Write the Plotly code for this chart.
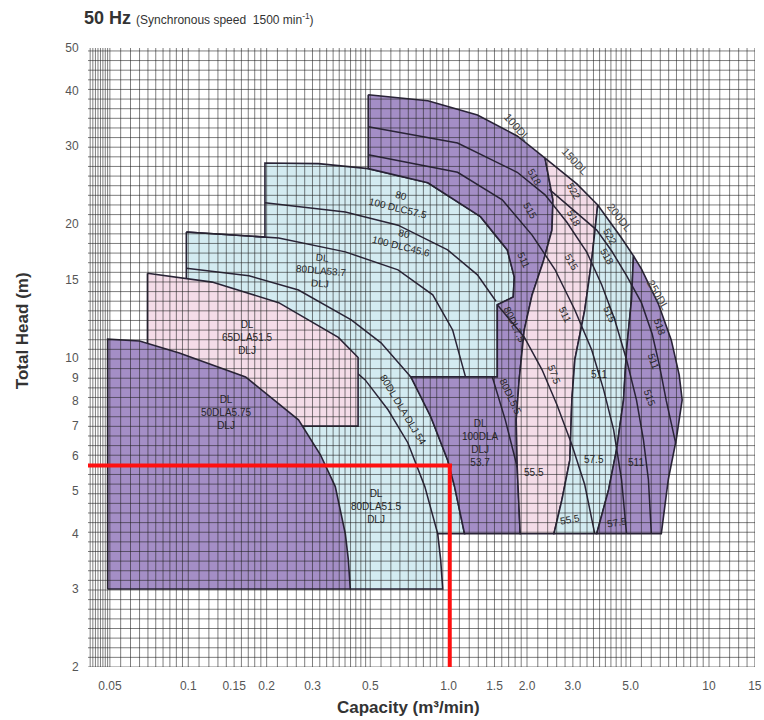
import numpy as np
import plotly.graph_objects as go

# ---------------- axis ticks ----------------
x_tick_vals = [0.05, 0.1, 0.15, 0.2, 0.3, 0.5, 1.0, 1.5, 2.0, 3.0, 5.0, 10, 15]
x_tick_text = ["0.05", "0.1", "0.15", "0.2", "0.3", "0.5", "1.0", "1.5", "2.0", "3.0", "5.0", "10", "15"]
y_tick_vals = [2, 3, 4, 5, 6, 7, 8, 9, 10, 15, 20, 30, 40, 50]
y_tick_text = [str(v) for v in y_tick_vals]
x_range = (0.0412, 15.02)
y_range = (2, 50)

# ---------------- boundary curves (Q m3/min, H m) ----------------
env_q = [0.491, 0.832, 1.29, 1.834, 2.346, 3.107, 3.738, 4.614, 5.128, 5.501, 6.388, 7.161, 7.683, 7.888]
env_h = [39.2, 38.0, 35.3, 31.65, 28.2, 24.66, 22.1, 18.62, 16.96, 15.85, 13.22, 10.96, 9.14, 8.02]
right_q = [7.482, 6.976, 6.559]
right_h = [6.52, 5.3, 4.0]
b1_q = [2.346, 2.516, 2.494, 2.305, 2.092, 1.95, 1.866, 1.818, 1.834, 1.883]
b1_h = [28.2, 22.7, 19.4, 16.4, 13.85, 11.5, 8.9, 7.23, 5.66, 4.0]
b2_q = [3.738, 3.545, 3.333, 3.053, 2.974, 2.922, 2.723, 2.538]
b2_h = [22.1, 16.6, 12.8, 9.88, 8.02, 5.87, 4.77, 4.0]
b3_q = [5.128, 5.038, 4.823, 4.696, 4.416, 4.117, 3.705]
b3_h = [16.96, 13.5, 10.4, 8.02, 6.19, 5.03, 4.0]
dlc_top_q = [0.197, 0.316, 0.491, 0.832, 1.325, 1.68, 1.787, 1.771, 1.538]
dlc_top_h = [27.5, 27.4, 26.7, 24.8, 20.8, 17.5, 15.2, 13.7, 13.15]
dla100_left_q = [0.716, 0.854, 0.991, 1.054, 1.151]
dla100_left_h = [9.04, 7.35, 5.87, 5.11, 4.0]

# small-pump regions
dla50_q = [0.049, 0.049, 0.065, 0.0924, 0.166, 0.265, 0.3218, 0.367, 0.401, 0.412, 0.419]
dla50_h = [3.0, 11.0, 10.9, 10.24, 9.04, 7.23, 6.03, 5.11, 4.0, 3.49, 3.0]
dla65_q = [0.0697, 0.1235, 0.2225, 0.377, 0.449, 0.449, 0.0697]
dla65_h = [15.5, 14.8, 13.3, 11.1, 10.0, 7.0, 7.0]
lb_head_q = [0.0983, 0.197]
lb_head_h = [19.2, 18.7]
lb_tail_q = [0.908, 0.932, 0.949, 0.419, 0.265, 0.171, 0.0983]
lb_tail_h = [4.0, 3.49, 3.0, 3.0, 6.98, 8.02, 13.5]

# interior curves
line2_q = [0.197, 0.401, 0.639, 0.991, 1.29, 1.52]
line2_h = [22.35, 21.3, 19.9, 17.5, 15.37, 13.4]
line3_q = [0.0983, 0.2225, 0.401, 0.639, 0.869, 1.036, 1.161]
line3_h = [19.2, 18.62, 17.32, 15.77, 13.85, 11.54, 9.04]
line4_q = [0.0983, 0.171, 0.265, 0.4226, 0.55, 0.716]
line4_h = [15.9, 15.3, 14.2, 12.16, 10.79, 9.04]
inner_q = [0.265, 0.377, 0.478, 0.585, 0.697, 0.81, 0.908]
inner_h = [11.73, 10.03, 8.9, 7.62, 6.42, 5.11, 4.0]
h1_q = [2.43, 2.922, 3.705, 4.23, 4.823, 5.501, 6.05, 6.45, 6.85, 7.45]
h1_h = [24.0, 21.9, 19.4, 17.4, 15.3, 13.3, 11.3, 9.6, 8.0, 6.4]
h2_q = [0.491, 1.082, 1.834, 2.346, 2.846, 3.392, 3.871, 4.339, 4.823, 5.265, 5.6, 5.851, 6.006]
h2_h = [33.2, 30.5, 26.2, 23.3, 20.2, 17.3, 14.6, 12.2, 9.88, 8.02, 6.52, 5.3, 4.0]
h3_q = [0.491, 1.082, 1.607, 2.092, 2.561, 3.053, 3.545, 3.94, 4.301, 4.614, 4.823]
h3_h = [28.7, 26.2, 22.7, 18.9, 15.8, 12.8, 10.4, 8.45, 6.87, 5.3, 4.0]
ha_q = [1.538, 1.95, 2.285, 2.606, 2.974, 3.333, 3.64]
ha_h = [13.15, 11.13, 9.38, 7.82, 6.35, 5.16, 4.0]
vline_q = [1.472, 1.65, 1.834]
vline_h = [9.04, 7.23, 5.66]

# operating point (red lines)
op_q = 1.01
op_h = 5.7

# labels: text, Q, H, angle
labels = [
    ("DL<br>50DLA5.75<br>DLJ", 0.14, 7.5, 0),
    ("DL<br>65DLA51.5<br>DLJ", 0.168, 11.1, 0),
    ("DL<br>80DLA53.7<br>DLJ", 0.322, 15.7, 5),
    ("80<br>100 DLC57.5", 0.65, 22.5, 14),
    ("80<br>100 DLC45.6", 0.667, 18.4, 14),
    ("80DL DLA DLJ 54", 0.667, 7.62, 59),
    ("DL<br>80DLA51.5<br>DLJ", 0.527, 4.6, 0),
    ("DL<br>100DLA<br>DLJ<br>53.7", 1.325, 6.42, 0),
    ("80DL7.5", 1.787, 11.85, 65),
    ("80DL5.5", 1.725, 8.15, 65),
    ("518", 2.13, 25.6, 60), ("515", 2.056, 21.5, 60), ("511", 1.95, 16.6, 65),
    ("522", 3.027, 23.7, 60), ("518", 3.027, 20.6, 60), ("515", 2.974, 16.4, 60), ("511", 2.797, 12.5, 65),
    ("57.5", 2.538, 9.14, 70), ("55.5", 2.13, 5.49, 0),
    ("522", 4.153, 18.72, 60), ("518", 4.045, 16.87, 60), ("515", 4.153, 12.5, 65),
    ("511", 3.77, 9.14, 0), ("57.5", 3.608, 5.87, 0), ("55.5", 2.922, 4.30, -10),
    ("518", 6.447, 11.73, 70), ("511", 6.113, 9.78, 70), ("515", 5.90, 8.11, 70),
    ("511", 5.265, 5.78, 0), ("57.5", 4.416, 4.235, -10),
]
model_labels = [("100DL", 1.834, 33.2, 48), ("150DL", 3.053, 27.8, 47),
                ("200DL", 4.535, 20.8, 52), ("250DL", 6.388, 13.85, 60)]

# grid (log paper)
x_grid_segments = [(0.041, 0.05, 0.001), (0.05, 0.1, 0.005), (0.1, 0.2, 0.01), (0.2, 0.5, 0.02),
                   (0.5, 1.0, 0.05), (1.0, 2.0, 0.1), (2.0, 5.0, 0.2), (5.0, 10.0, 0.5), (10.0, 15.0, 1.0)]
y_grid_per_decade = 46

# ---------------- styling ----------------
PURPLE = "#a48ec6"
PINK = "#f4dce8"
LBLUE = "#d3ebf1"
EDGE = "#2a2438"
FONT = "Liberation Sans, Arial, sans-serif"

fig = go.Figure()


def poly(q, h, color):
    fig.add_trace(go.Scatter(x=list(q) + [q[0]], y=list(h) + [h[0]], mode="lines", fill="toself",
                             fillcolor=color, line=dict(color=EDGE, width=1.6),
                             hoverinfo="skip", showlegend=False))


def curve(q, h, width=1.5, color=EDGE):
    fig.add_trace(go.Scatter(x=q, y=h, mode="lines", line=dict(color=color, width=width),
                             hoverinfo="skip", showlegend=False))


def pts(qs, hs):
    return list(zip(qs, hs))


# light-blue family (80DLA / DLC)
lb = pts(lb_head_q, lb_head_h) + pts(dlc_top_q, dlc_top_h) + [(1.538, 9.04)] + \
    pts(dla100_left_q, dla100_left_h) + pts(lb_tail_q, lb_tail_h)
poly([p[0] for p in lb], [p[1] for p in lb], LBLUE)
curve(line2_q, line2_h)
curve(line3_q, line3_h)
curve(line4_q, line4_h)
curve(inner_q, inner_h)

poly(dla65_q, dla65_h, PINK)
poly(dla50_q, dla50_h, PURPLE)

env = pts(env_q, env_h)
b1 = pts(b1_q, b1_h)
b2 = pts(b2_q, b2_h)
b3 = pts(b3_q, b3_h)
dlc = pts(dlc_top_q, dlc_top_h)
dla = pts(dla100_left_q, dla100_left_h)

p100 = env[0:5] + b1[1:] + dla[::-1] + [(1.538, 9.04)] + dlc[2:][::-1]
p150 = env[4:7] + b2[1:] + b1[::-1][:-1]
l200 = env[6:9] + b3[1:] + b2[::-1][:-1]
p250 = env[8:] + pts(right_q, right_h) + b3[::-1][:-1]
for shape, col in [(p100, PURPLE), (p150, PINK), (l200, LBLUE), (p250, PURPLE)]:
    poly([p[0] for p in shape], [p[1] for p in shape], col)

for q, h in [(h1_q, h1_h), (h2_q, h2_h), (h3_q, h3_h), (ha_q, ha_h), (vline_q, vline_h)]:
    curve(q, h)

# grid overlay
gx = []
for a, b, s in x_grid_segments:
    gx.extend(np.arange(a, b - 1e-9, s).tolist())
gx.append(15.0)
gy = (10 ** np.arange(np.log10(y_range[0]), np.log10(y_range[1]) + 1e-9,
                      1.0 / y_grid_per_decade)).tolist()
grid_x, grid_y = [], []
for v in gx:
    if x_range[0] <= v <= x_range[1]:
        grid_x += [v, v, None]
        grid_y += [y_range[0], y_range[1], None]
for v in gy:
    grid_x += [x_range[0], x_range[1], None]
    grid_y += [v, v, None]
fig.add_trace(go.Scatter(x=grid_x, y=grid_y, mode="lines",
                         line=dict(color="rgba(35,35,35,0.58)", width=1),
                         hoverinfo="skip", showlegend=False))

# red operating lines
fig.add_trace(go.Scatter(x=[x_range[0], op_q * 1.02, None, op_q, op_q],
                         y=[op_h, op_h, None, op_h, y_range[0]],
                         mode="lines", line=dict(color="#ff1010", width=4),
                         hoverinfo="skip", showlegend=False))

annotations = []
for t, q, h, ang in labels:
    annotations.append(dict(x=np.log10(q), y=np.log10(h), xref="x", yref="y", text=t,
                            showarrow=False, textangle=ang,
                            font=dict(family=FONT, size=10, color="#262626")))
for t, q, h, ang in model_labels:
    annotations.append(dict(x=np.log10(q), y=np.log10(h), xref="x", yref="y", text=t,
                            showarrow=False, textangle=ang,
                            font=dict(family=FONT, size=11, color="#444444")))
annotations += [
    dict(x=-0.009, y=1.048, xref="paper", yref="paper", xanchor="left", yanchor="middle",
         text="<b>50 Hz</b> <span style='font-size:12px'>(Synchronous speed  1500 min<sup>-1</sup>)</span>",
         showarrow=False, font=dict(family=FONT, size=18, color="#333333")),
    dict(x=0.48, y=-0.066, xref="paper", yref="paper", xanchor="center", yanchor="middle",
         text="<b>Capacity (m³/min)</b>", showarrow=False,
         font=dict(family=FONT, size=17, color="#333333")),
    dict(x=-0.099, y=0.544, xref="paper", yref="paper", xanchor="center", yanchor="middle",
         text="<b>Total Head (m)</b>", showarrow=False, textangle=-90,
         font=dict(family=FONT, size=17, color="#333333")),
]

fig.update_layout(
    width=764, height=720,
    margin=dict(l=88, r=9, t=48, b=53, autoexpand=False),
    paper_bgcolor="white", plot_bgcolor="white",
    showlegend=False,
    annotations=annotations,
    xaxis=dict(type="log", range=[np.log10(x_range[0]), np.log10(x_range[1])],
               tickvals=x_tick_vals, ticktext=x_tick_text, showgrid=False, zeroline=False,
               showline=False, ticks="outside", ticklen=8, tickcolor="rgba(0,0,0,0)",
               automargin=False,
               tickfont=dict(family=FONT, size=12, color="#555555")),
    yaxis=dict(type="log", range=[np.log10(y_range[0]), np.log10(y_range[1])],
               tickvals=y_tick_vals, ticktext=y_tick_text, showgrid=False, zeroline=False,
               showline=False, ticks="outside", ticklen=6, tickcolor="rgba(0,0,0,0)",
               automargin=False,
               tickfont=dict(family=FONT, size=12, color="#555555")),
)

fig.write_html("out.html")
